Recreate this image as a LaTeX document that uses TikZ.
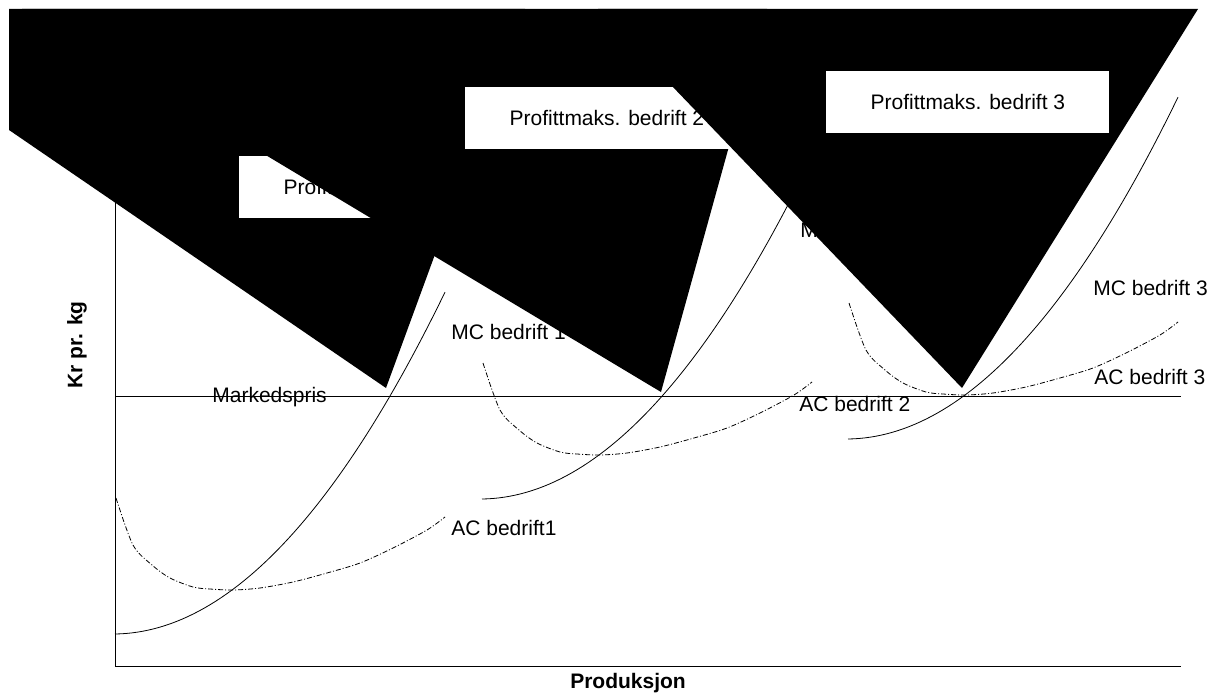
\documentclass[tikz,border=0pt]{standalone}
\usepackage{fontspec}
\setmainfont{Liberation Sans}

\begin{document}
\begin{tikzpicture}[x=0.5pt, y=-0.5pt, font=\fontsize{10.5}{12}\selectfont]
	\tikzstyle{mcCurve} = [line width=0.4pt]
	\tikzstyle{acCurve} = [line width=0.4pt, dash pattern=on 2.5pt off 1pt on 0.5pt off 1pt]
	\tikzstyle{axisLine} = [line width=0.5pt]
	\tikzstyle{curveText} = [anchor=west, inner sep=0pt]
	\tikzstyle{axisText} = [inner sep=0pt, font=\fontsize{10.5}{12}\selectfont\bfseries]
	\tikzstyle{profitBox} = [fill=white, anchor=north west, inner sep=0pt, minimum width=141.5pt, minimum height=31pt]
	\tikzstyle{wedge} = [fill=black]
	\useasboundingbox (0,0) rectangle (1221,695);
	% axes and market price
	\coordinate (yTop) at (115,180);
	\coordinate (origin) at (115,666);
	\coordinate (xEnd) at (1181,666);
	\coordinate (priceStart) at (115,396);
	\coordinate (priceEnd) at (1181,396);
	\draw[axisLine] (yTop) -- (origin) -- (xEnd);
	\draw[axisLine] (priceStart) -- (priceEnd);
	\node[axisText, rotate=90] (yText) at (77,345) {Kr pr. kg};
	\node[axisText] (xText) at (628,683) {Produksjon};
	% cost curves, one shift per firm
	\foreach \dx/\dy in {0/0, 367/-135, 733/-195}
	{
		\begin{scope}[shift={(\dx,\dy)}]
			\draw[mcCurve] plot[domain=0:330, samples=60] ({115+\x}, {634-0.0135*\x-0.3098*(\x/10)^2});
			\draw[acCurve] plot[smooth] coordinates {(116,498) (133,545) (152,565) (170,578) (193,587) (210,589) (233,590) (260,588) (293,582) (327,573) (360,563) (393,548) (427,530) (445,517)};
		\end{scope}
	}
	\node[curveText] (priceText) at (212,397) {Markedspris};
	\node[curveText] (mcOne) at (451,332) {MC bedrift 1};
	\node[curveText] (mcTwo) at (800,230) {MC bedrift 2};
	\node[curveText] (mcThree) at (1093,288) {MC bedrift 3};
	\node[curveText] (acOne) at (451,528) {AC bedrift1};
	\node[curveText] (acTwo) at (799,404) {AC bedrift 2};
	\node[curveText] (acThree) at (1094,377) {AC bedrift 3};
	% black wedges with their boxes
	\fill[wedge] (9,9) -- (525,9) -- (386,388) -- (9,130) -- cycle;
	\node[profitBox] (boxOne) at (239,156) {Profittmaks. bedrift 1};
	\fill[wedge] (22,9) -- (767,9) -- (661,392) -- cycle;
	\node[profitBox] (boxTwo) at (465,87) {Profittmaks. bedrift 2};
	\fill[wedge] (598,9) -- (1198,9) -- (962,388) -- cycle;
	\node[profitBox] (boxThree) at (826,71) {Profittmaks. bedrift 3};
\end{tikzpicture}
\end{document}
